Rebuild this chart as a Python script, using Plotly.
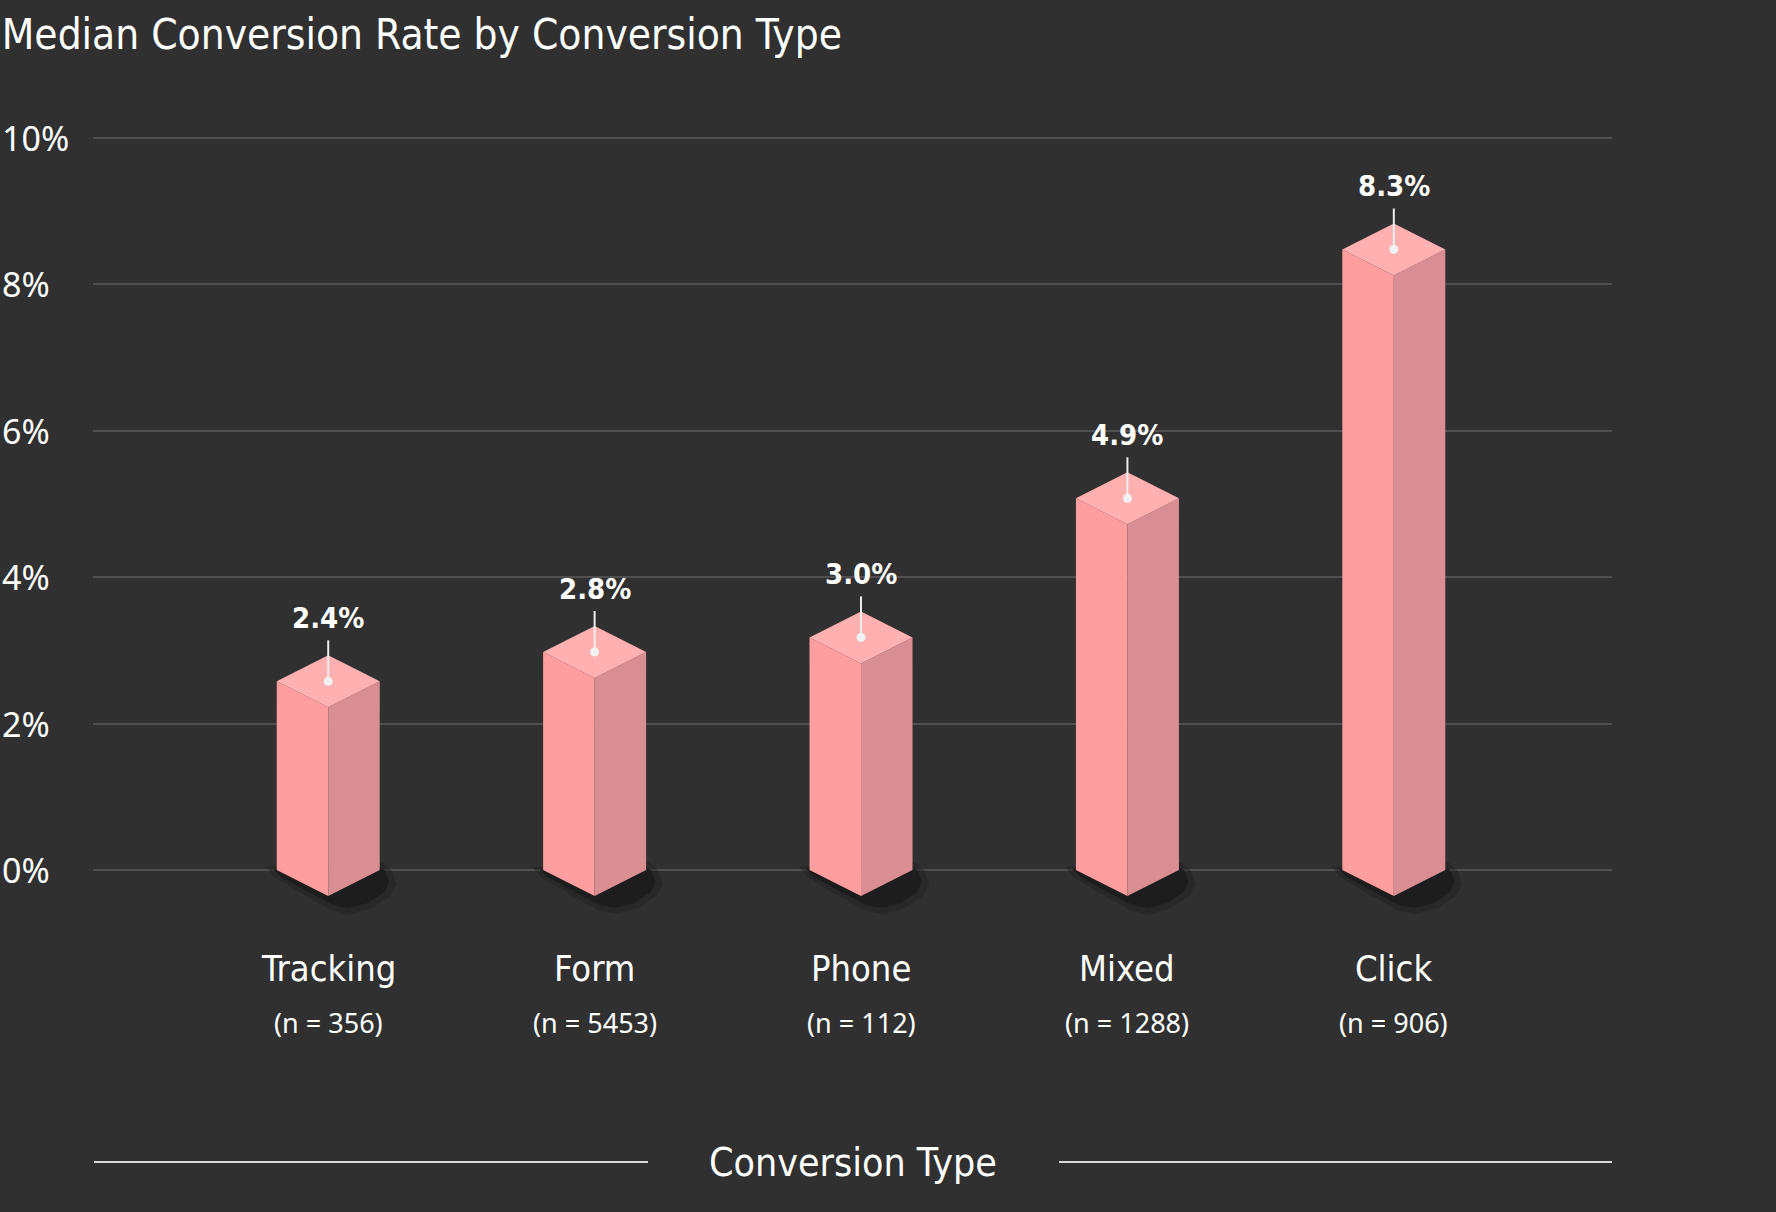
import plotly.graph_objects as go

# ---- data ----
categories = ["Tracking", "Form", "Phone", "Mixed", "Click"]
sample_sizes = [356, 5453, 112, 1288, 906]
median_rates = [2.4, 2.8, 3.0, 4.9, 8.3]
y_tick_vals = [0, 2, 4, 6, 8, 10]
y_tick_text = ["0%", "2%", "4%", "6%", "8%", "10%"]

# ---- style ----
BG = "#303030"
LEFT_C = "#FF9E9E"
RIGHT_C = "#D98E93"
TOP_C = "#FFB0B0"
GRID_C = "#505050"
TEXT_C = "#FFFFFF"
COND_FONT = "Liberation Sans Narrow, DejaVu Sans Condensed, sans-serif"
REG_FONT = "Noto Sans, Open Sans, sans-serif"

W, H = 1776, 1212
PLOT_L, PLOT_R = 93, 1612
PLOT_T, PLOT_B = 134, 930
PX_Y = 73.2
X_RANGE = [-0.883, 4.819]
Y_RANGE = [-(PLOT_B - 870) / PX_Y, 10 + (138 - PLOT_T) / PX_Y]

px_per_x = (PLOT_R - PLOT_L) / (X_RANGE[1] - X_RANGE[0])
px_per_y = (PLOT_B - PLOT_T) / (Y_RANGE[1] - Y_RANGE[0])

HALF_W = 51.5 / px_per_x          # half bar width (data)
DY = 13 / px_per_y                # offset of side corners above value
DIAM = 26 / px_per_y              # half diamond height
LEADER = 41 / px_per_y

shadow_outer = [(-62, -3), (-54, 7), (-22, 26), (5, 41), (22, 44), (44, 38),
                (62, 26), (68, 14), (64, 1), (54, -8)]
shadow_inner = [(-55, -1), (-47, 7), (-18, 23), (5, 35), (20, 38), (40, 33),
                (56, 22), (61, 12), (57, 1), (48, -6)]

fig = go.Figure()


def poly(xs, ys, color, opacity=1.0):
    fig.add_trace(go.Scatter(
        x=xs + [xs[0]], y=ys + [ys[0]], mode="lines", fill="toself",
        fillcolor=color, line=dict(width=0, color=color), opacity=opacity,
        hoverinfo="skip", showlegend=False))


for i, v in enumerate(median_rates):
    # shadow
    for pts, col, op in [(shadow_outer, "#1e1e1e", 0.45), (shadow_inner, "#1c1c1c", 0.9)]:
        poly([i + dx / px_per_x for dx, dy in pts],
             [-dy / px_per_y for dx, dy in pts], col, op)
    side_top = v + DY
    front_top = v - DY
    side_bot = 0
    front_bot = side_bot - DIAM
    # left face
    poly([i - HALF_W, i, i, i - HALF_W],
         [side_top, front_top, front_bot, side_bot], LEFT_C)
    # right face
    poly([i, i + HALF_W, i + HALF_W, i],
         [front_top, side_top, side_bot, front_bot], RIGHT_C)
    # top face
    poly([i - HALF_W, i, i + HALF_W, i],
         [side_top, side_top + DIAM, side_top, front_top], TOP_C)
    # leader line + dot
    fig.add_trace(go.Scatter(
        x=[i, i], y=[side_top, side_top + LEADER], mode="lines",
        line=dict(color="#EDEDED", width=2), hoverinfo="skip", showlegend=False))
    fig.add_trace(go.Scatter(
        x=[i], y=[side_top], mode="markers",
        marker=dict(color="#F2F2F2", size=9), hoverinfo="skip", showlegend=False))
    # value label
    fig.add_annotation(
        x=i, y=v, xref="x", yref="y", text=f"<b>{v:.1f}%</b>",
        showarrow=False, yanchor="middle", yshift=76,
        font=dict(family=COND_FONT, size=29, color=TEXT_C))
    # category labels
    fig.add_annotation(
        x=i, y=(PLOT_B - 968) / (PLOT_B - PLOT_T), xref="x", yref="paper",
        text=categories[i], showarrow=False, yanchor="middle",
        font=dict(family=COND_FONT, size=36, color=TEXT_C))
    fig.add_annotation(
        x=i, y=(PLOT_B - 1022) / (PLOT_B - PLOT_T), xref="x", yref="paper",
        text=f"(n = {sample_sizes[i]})", showarrow=False, yanchor="middle",
        font=dict(family=REG_FONT, size=27, color=TEXT_C))

# y tick labels (left aligned)
for val, txt in zip(y_tick_vals, y_tick_text):
    fig.add_annotation(
        x=(0 - PLOT_L) / (PLOT_R - PLOT_L), y=val, xref="paper", yref="y",
        text=txt, showarrow=False, xanchor="left", yanchor="middle",
        font=dict(family=REG_FONT, size=34, color=TEXT_C))

# axis title with side rules
title_y = (PLOT_B - 1162) / (PLOT_B - PLOT_T)
fig.add_annotation(
    x=(853 - PLOT_L) / (PLOT_R - PLOT_L), y=title_y, xref="paper", yref="paper",
    text="Conversion Type", showarrow=False, yanchor="middle",
    font=dict(family=COND_FONT, size=39, color=TEXT_C, weight=300))
fig.add_shape(type="line", xref="paper", yref="paper",
              x0=(94 - PLOT_L) / (PLOT_R - PLOT_L), x1=(648 - PLOT_L) / (PLOT_R - PLOT_L),
              y0=title_y, y1=title_y, line=dict(color="#D8D8D8", width=2))
fig.add_shape(type="line", xref="paper", yref="paper",
              x0=(1059 - PLOT_L) / (PLOT_R - PLOT_L), x1=1.0,
              y0=title_y, y1=title_y, line=dict(color="#D8D8D8", width=2))

fig.update_layout(
    width=W, height=H,
    paper_bgcolor=BG, plot_bgcolor=BG,
    margin=dict(l=PLOT_L, r=W - PLOT_R, t=PLOT_T, b=H - PLOT_B, pad=0),
    title=dict(text="Median Conversion Rate by Conversion Type",
               x=0.001, xref="container", xanchor="left",
               y=1 - 34 / H, yanchor="middle",
               font=dict(family=COND_FONT, size=42, color=TEXT_C, weight=300)),
    xaxis=dict(range=X_RANGE, showgrid=False, zeroline=False, showticklabels=False,
               showline=False, fixedrange=True),
    yaxis=dict(range=Y_RANGE, tickvals=y_tick_vals, showticklabels=False,
               showgrid=True, gridcolor=GRID_C, gridwidth=1.5, zeroline=False,
               showline=False, fixedrange=True),
    showlegend=False,
)

fig.write_html("out.html")
